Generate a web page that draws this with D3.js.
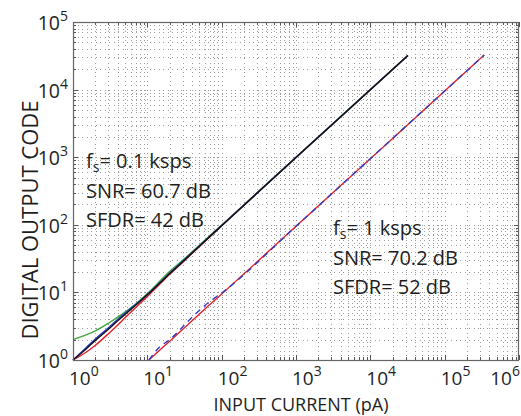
<!DOCTYPE html>
<html>
<head>
<meta charset="utf-8">
<script src="https://cdn.jsdelivr.net/npm/d3@7"></script>
<style>
  html, body { margin: 0; padding: 0; background: #fff; }
  svg { display: block; }
  text { font-family: "Open Sans", Lato, sans-serif; fill: #1e1e1e; }
</style>
</head>
<body>
<svg id="chart" width="521" height="416"></svg>
<script>
// ---- data ----
const xDecades = [0, 1, 2, 3, 4, 5, 6];
const yDecades = [0, 1, 2, 3, 4, 5];

// fs = 0.1 ksps set
const currentA = [1, 1.5, 2, 3, 4, 5, 6, 8, 10, 15, 20, 30, 50, 100, 1000, 10000, 32000];
const blackA   = [1, 1.45, 1.95, 2.85, 3.8, 4.7, 5.6, 7.4, 9.2, 14, 19, 28.5, 48, 97, 990, 9950, 32000];
const blueA    = [1, 1.52, 2.05, 3.0, 4.0, 4.9, 5.8, 7.5, 9.3, 14.2, 19.4, 29, 48.5, 98, 995, 9980, 32000];
const redA     = [1, 1.3, 1.65, 2.45, 3.3, 4.2, 5.1, 6.9, 8.7, 13.5, 18.5, 28, 47.5, 97, 990, 9950, 32000];
const greenA   = [2.0, 2.35, 2.7, 3.5, 4.3, 5.1, 5.9, 7.7, 9.6, 15, 20.5, 30, 50, 99, 1000, 10000, 32000];

// fs = 1 ksps set
const currentB = [10.5, 15, 20, 30, 40, 70, 100, 1000, 10000, 100000, 340000];
const redB     = [1, 1.43, 1.9, 2.86, 3.8, 6.7, 9.5, 95, 952, 9520, 32400];
const blueB    = [1, 1.6, 2.0, 3.1, 4.3, 7.4, 9.8, 95, 952, 9520, 32400];

const annotA = [["f", "s", "= 0.1 ksps"], ["SNR= 60.7 dB"], ["SFDR= 42 dB"]];
const annotB = [["f", "s", "= 1 ksps"], ["SNR= 70.2 dB"], ["SFDR= 52 dB"]];

const xTitle = "INPUT CURRENT (pA)";
const yTitle = "DIGITAL OUTPUT CODE";

// ---- layout ----
const W = 521, H = 416;
const svg = d3.select("#chart");
const L = 73, R = 519, T = 22, B = 360;
const x = d3.scaleLog().domain([1, 1e6]).range([L, R]);
const y = d3.scaleLog().domain([1, 1e5]).range([B, T]);

svg.append("rect").attr("width", W).attr("height", H).attr("fill", "#fff");

// grid (dotted, every minor and major value)
const xt = x.ticks();
const yt = y.ticks();
const grid = svg.append("g").attr("stroke", "#9c9c9c").attr("stroke-width", 1)
  .attr("stroke-dasharray", "1,3.5").attr("shape-rendering", "crispEdges");
grid.selectAll(".gx").data(xt.filter(v => v > 1 && v < 1e6)).join("line")
  .attr("x1", d => Math.round(x(d)) + 0.5).attr("x2", d => Math.round(x(d)) + 0.5)
  .attr("y1", T).attr("y2", B);
grid.selectAll(".gy").data(yt.filter(v => v > 1 && v < 1e5)).join("line")
  .attr("y1", d => Math.round(y(d)) + 0.5).attr("y2", d => Math.round(y(d)) + 0.5)
  .attr("x1", L).attr("x2", R);

// ticks (inward, all four sides)
const isMajor = v => Math.abs(Math.log10(v) - Math.round(Math.log10(v))) < 1e-9;
const tk = svg.append("g").attr("stroke", "#555").attr("stroke-width", 1).attr("shape-rendering", "crispEdges");
xt.forEach(v => {
  const len = isMajor(v) ? 5 : 3, px = Math.round(x(v)) + 0.5;
  tk.append("line").attr("x1", px).attr("x2", px).attr("y1", B).attr("y2", B - len);
  tk.append("line").attr("x1", px).attr("x2", px).attr("y1", T).attr("y2", T + len);
});
yt.forEach(v => {
  const len = isMajor(v) ? 5 : 3, py = Math.round(y(v)) + 0.5;
  tk.append("line").attr("y1", py).attr("y2", py).attr("x1", L).attr("x2", L + len);
  tk.append("line").attr("y1", py).attr("y2", py).attr("x1", R).attr("x2", R - len);
});

// series
const lineA = d3.line().x((d, i) => x(currentA[i])).y(d => y(d)).curve(d3.curveMonotoneX);
const lineB = d3.line().x((d, i) => x(currentB[i])).y(d => y(d)).curve(d3.curveMonotoneX);
const plot = svg.append("g").attr("fill", "none").attr("stroke-width", 1.4);
plot.append("path").attr("d", lineA(redA)).attr("stroke", "#e5202b");
plot.append("path").attr("d", lineA(greenA)).attr("stroke", "#42a842");
plot.append("path").attr("d", lineA(blueA)).attr("stroke", "#2b3cc8");
plot.append("path").attr("d", lineA(blackA)).attr("stroke", "#111");
plot.append("path").attr("d", lineB(redB)).attr("stroke", "#e5202b");
plot.append("path").attr("d", lineB(blueB)).attr("stroke", "#2b3cc8").attr("stroke-dasharray", "6,5");

// frame
svg.append("rect").attr("x", L + 0.5).attr("y", T + 0.5).attr("width", R - L - 1).attr("height", B - T)
  .attr("fill", "none").attr("stroke", "#666").attr("stroke-width", 1.2);

// tick labels
xDecades.forEach(d => {
  const t = svg.append("text").attr("x", x(Math.pow(10, d)) - 4).attr("y", 385)
    .attr("font-size", 19);
  t.append("tspan").text("10");
  t.append("tspan").attr("dy", -9).attr("font-size", 14).text(d);
  const w = t.node().getComputedTextLength();
  if (x(Math.pow(10, d)) - 4 + w > W - 1) t.attr("x", W - 1 - w);
});
yDecades.forEach(d => {
  const t = svg.append("text").attr("x", L - 5).attr("y", y(Math.pow(10, d)) + 8)
    .attr("font-size", 19.5).attr("text-anchor", "end");
  t.append("tspan").text("10");
  t.append("tspan").attr("dy", -9).attr("font-size", 14).text(d);
});

// axis titles
svg.append("text").attr("x", 301).attr("y", 410.5).attr("text-anchor", "middle")
  .attr("font-size", 18).text(xTitle);
svg.append("text").attr("transform", "translate(38,220) rotate(-90)").attr("text-anchor", "middle")
  .attr("font-size", 22).text(yTitle);

// annotations
function annotate(lines, x0, y0) {
  lines.forEach((ln, i) => {
    const t = svg.append("text").attr("x", x0).attr("y", y0 + i * 29.5).attr("font-size", 20);
    if (ln.length === 3) {
      t.append("tspan").text(ln[0]);
      t.append("tspan").attr("dy", 3.5).attr("font-size", 14).text(ln[1]);
      t.append("tspan").attr("dy", -3.5).text(ln[2]);
    } else {
      t.text(ln[0]);
    }
  });
}
annotate(annotA, 86, 168);
annotate(annotB, 333, 235);
</script>
</body>
</html>
